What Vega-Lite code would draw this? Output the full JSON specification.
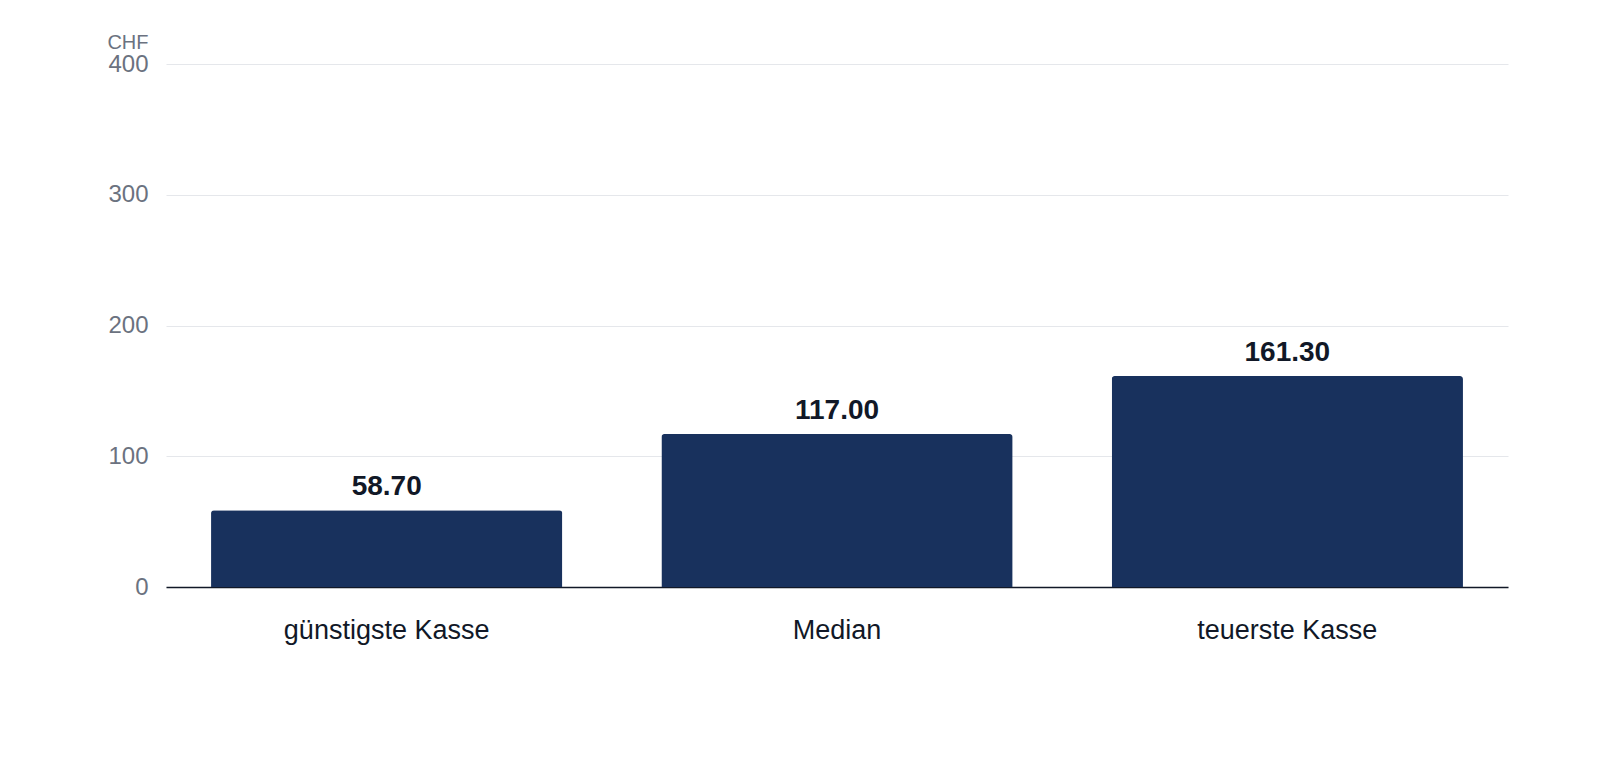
{
  "$schema": "https://vega.github.io/schema/vega-lite/v6.json",
  "width": 1342,
  "height": 523,
  "autosize": {"type": "none"},
  "padding": {"left": 166, "top": 64, "right": 92, "bottom": 173},
  "background": "white",
  "config": {
    "view": {"stroke": null},
    "font": "Liberation Sans"
  },
  "data": {
    "values": [
      {"kategorie": "günstigste Kasse", "wert": 58.7},
      {"kategorie": "Median", "wert": 117.0},
      {"kategorie": "teuerste Kasse", "wert": 161.3}
    ]
  },
  "encoding": {
    "x": {
      "field": "kategorie",
      "type": "nominal",
      "sort": null,
      "scale": {"paddingInner": 0.22, "paddingOuter": 0.1},
      "axis": {
        "title": null,
        "labelAngle": 0,
        "labelFontSize": 27,
        "labelLimit": 440,
        "labelColor": "#111827",
        "labelPadding": 30,
        "ticks": false,
        "domainColor": "#111827",
        "domainWidth": 1.5
      }
    },
    "y": {
      "field": "wert",
      "type": "quantitative",
      "scale": {"domain": [0, 400]},
      "axis": {
        "values": [0, 100, 200, 300, 400],
        "title": "CHF",
        "titleAngle": 0,
        "titleAlign": "right",
        "titleBaseline": "alphabetic",
        "titleX": -18,
        "titleY": -16,
        "titleFontSize": 20,
        "titleFontWeight": "normal",
        "titleColor": "#6b7280",
        "labelFontSize": 24,
        "labelColor": "#6b7280",
        "labelPadding": 18,
        "ticks": false,
        "domain": false,
        "gridColor": "#e5e7eb",
        "gridWidth": 1
      }
    }
  },
  "layer": [
    {
      "mark": {"type": "bar", "color": "#18315d", "cornerRadiusTopLeft": 3, "cornerRadiusTopRight": 3}
    },
    {
      "mark": {"type": "text", "baseline": "alphabetic", "dy": -15, "fontSize": 28, "fontWeight": "bold", "color": "#111827"},
      "encoding": {
        "text": {"field": "wert", "type": "quantitative", "format": ".2f"}
      }
    }
  ]
}
